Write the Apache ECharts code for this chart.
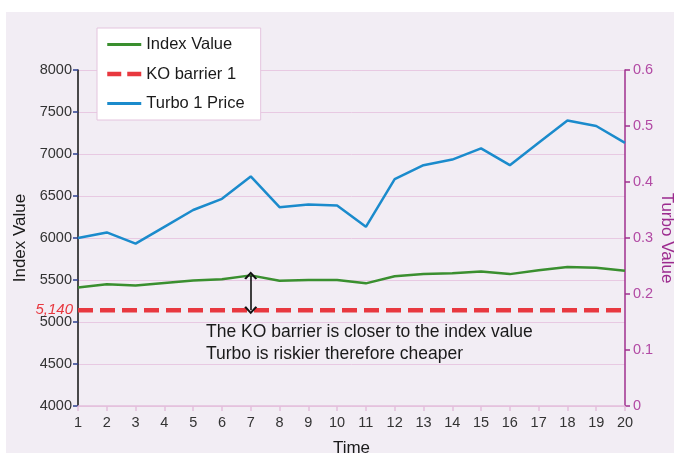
<!DOCTYPE html>
<html>
<head>
<meta charset="utf-8">
<script src="https://cdn.jsdelivr.net/npm/echarts@6/dist/echarts.min.js"></script>
<style>
html,body{margin:0;padding:0;background:#ffffff;}
#chart{width:674px;height:453px;}
</style>
</head>
<body>
<div id="chart"></div>
<script>
// ---- data ----
const categories = ['1','2','3','4','5','6','7','8','9','10','11','12','13','14','15','16','17','18','19','20'];
const indexValue = [5410, 5450, 5435, 5465, 5495, 5510, 5555, 5490, 5500, 5500, 5460, 5545, 5570, 5580, 5600, 5570, 5615, 5655, 5645, 5610];
const turboPrice = [0.30, 0.31, 0.29, 0.32, 0.35, 0.37, 0.41, 0.355, 0.36, 0.358, 0.32, 0.405, 0.43, 0.44, 0.46, 0.43, 0.47, 0.51, 0.50, 0.47];
const koBarrierLevel = 5140;
const koBarrierLabel = '5,140';
const arrowIndex = 6; // time = 7
const annotationLines = ['The KO barrier is closer to the index value', 'Turbo is riskier therefore cheaper'];

const FONT = 'Liberation Sans, Arial, Helvetica, sans-serif';
const koBarrier = categories.map(() => koBarrierLevel);
const koData = koBarrier.map((v, i) => i === 0 ? {
  value: v,
  label: {show: true, position: 'left', distance: 5, formatter: koBarrierLabel,
          color: '#e8383f', fontStyle: 'italic', fontSize: 15, fontFamily: FONT}
} : v);

const chevron = 'path://M0,9.2 L6,0 L12,9.2 L10.3,10.4 L6,3.6 L1.7,10.4 Z';

const chart = echarts.init(document.getElementById('chart'));
chart.setOption({
  backgroundColor: '#ffffff',
  animation: false,
  textStyle: {fontFamily: FONT},
  graphic: [
    {type: 'rect', left: 6, top: 12, z: -100, silent: true,
     shape: {width: 668, height: 441}, style: {fill: '#f2edf4'}},
    {type: 'text', left: 206, top: 321, z: 100, silent: true,
     style: {text: annotationLines.join('\n'), font: '17.5px ' + FONT, fill: '#1a1a1a', lineHeight: 22}}
  ],
  grid: {left: 78, right: 49, top: 70, bottom: 47, containLabel: false, outerBoundsMode: 'none'},
  legend: {
    orient: 'vertical', left: 97, top: 28,
    backgroundColor: '#ffffff', borderColor: '#e4c4de', borderWidth: 1,
    padding: [8, 16, 8, 8], itemWidth: 34, itemHeight: 14, itemGap: 12.5,
    textStyle: {fontSize: 16.5, color: '#1a1a1a', fontFamily: FONT},
    itemStyle: {opacity: 0},
    data: [
      {name: 'Index Value', lineStyle: {width: 3}},
      {name: 'KO barrier 1', lineStyle: {width: 4.5, type: [14, 6]}},
      {name: 'Turbo 1 Price', lineStyle: {width: 3}}
    ]
  },
  xAxis: {
    type: 'category', data: categories, boundaryGap: false,
    name: 'Time', nameLocation: 'middle', nameGap: 34, nameMoveOverlap: false,
    nameTextStyle: {fontSize: 17, color: '#1a1a1a'},
    axisLine: {show: true, lineStyle: {color: '#e3bfdb', width: 1.5}},
    axisTick: {show: true, length: 5, interval: 0, lineStyle: {color: '#e3bfdb', width: 1.5}},
    axisLabel: {fontSize: 14.5, color: '#333333', margin: 9, interval: 0},
    splitLine: {show: false}
  },
  yAxis: [
    {
      type: 'value', min: 4000, max: 8000, interval: 500, position: 'left',
      name: 'Index Value', nameLocation: 'middle', nameGap: 49, nameMoveOverlap: false,
      nameTextStyle: {fontSize: 17, color: '#1a1a1a'},
      axisLine: {show: true, lineStyle: {color: '#111111', width: 1.5}},
      axisTick: {show: true, length: 5, lineStyle: {color: '#2c3f8f', width: 1.5}},
      axisLabel: {fontSize: 14.5, color: '#333333', margin: 6, formatter: (v) => String(v)},
      splitLine: {show: true, lineStyle: {color: '#e8c9e2', width: 1}}
    },
    {
      type: 'value', min: 0, max: 0.6, interval: 0.1, position: 'right',
      name: 'Turbo Value', nameLocation: 'middle', nameGap: 33, nameRotate: -90, nameMoveOverlap: false,
      nameTextStyle: {fontSize: 17, color: '#9c2a8e'},
      axisLine: {show: true, lineStyle: {color: '#a0308f', width: 1.5}},
      axisTick: {show: true, length: 5, lineStyle: {color: '#a0308f', width: 1.5}},
      axisLabel: {fontSize: 14.5, color: '#b24aa4', margin: 8},
      splitLine: {show: false}
    }
  ],
  series: [
    {
      name: 'Index Value', type: 'line', yAxisIndex: 0, data: indexValue,
      symbol: 'none', z: 3,
      lineStyle: {color: '#3a8f2f', width: 2.5}, itemStyle: {color: '#3a8f2f'},
      markLine: {
        silent: true, symbol: [chevron, chevron], symbolSize: [13, 8],
        label: {show: false},
        lineStyle: {color: '#111111', width: 1.6, type: 'solid'},
        emphasis: {disabled: true},
        data: [[
          {coord: [categories[arrowIndex], indexValue[arrowIndex]]},
          {coord: [categories[arrowIndex], koBarrierLevel]}
        ]]
      }
    },
    {
      name: 'KO barrier 1', type: 'line', yAxisIndex: 0, data: koData,
      symbol: 'circle', symbolSize: 0, showSymbol: true, z: 2,
      lineStyle: {color: '#e8383f', width: 4.5, type: [15, 7]}, itemStyle: {color: '#e8383f'}
    },
    {
      name: 'Turbo 1 Price', type: 'line', yAxisIndex: 1, data: turboPrice,
      symbol: 'none', z: 3,
      lineStyle: {color: '#1b8bcc', width: 2.5}, itemStyle: {color: '#1b8bcc'}
    }
  ]
});
</script>
</body>
</html>
